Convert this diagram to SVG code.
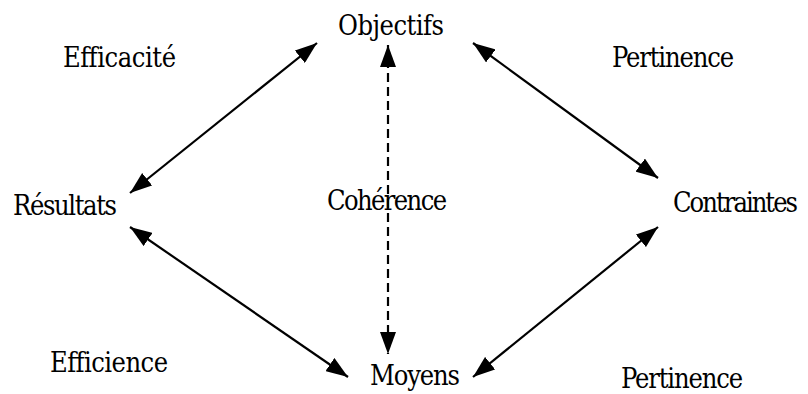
<svg xmlns="http://www.w3.org/2000/svg" width="808" height="394" viewBox="0 0 808 394">
<style>
text{font-family:"DejaVu Serif Condensed","DejaVu Serif",serif;font-stretch:condensed;font-size:27px;fill:#000}
.c{stroke:#000;stroke-width:2.2;fill:none}
.d{stroke-dasharray:9 5}
</style>
<defs>
<marker id="ah" viewBox="0 0 22 16" refX="22" refY="8" markerWidth="22" markerHeight="16" markerUnits="userSpaceOnUse" orient="auto-start-reverse">
<path d="M0,0 L22,8 L0,16 Z" fill="#000"/>
</marker>
</defs>
<rect width="808" height="394" fill="#fff"/>
<g id="connectors">
<line class="c" x1="130" y1="193" x2="317" y2="43" marker-start="url(#ah)" marker-end="url(#ah)"/>
<line class="c" x1="473" y1="43" x2="658" y2="178" marker-start="url(#ah)" marker-end="url(#ah)"/>
<line class="c" x1="130" y1="227" x2="348" y2="377" marker-start="url(#ah)" marker-end="url(#ah)"/>
<line class="c" x1="658" y1="227" x2="473" y2="377" marker-start="url(#ah)" marker-end="url(#ah)"/>
<line class="c d" x1="388" y1="45" x2="388" y2="354" marker-start="url(#ah)" marker-end="url(#ah)"/>
</g>
<g id="objectifs"><text x="338" y="35" textLength="106">Objectifs</text></g>
<g id="resultats"><text x="13" y="215" textLength="104">Résultats</text></g>
<g id="contraintes"><text x="673" y="212" textLength="125">Contraintes</text></g>
<g id="moyens"><text x="370" y="385" textLength="90">Moyens</text></g>
<g id="efficacite"><text x="63" y="67" textLength="113">Efficacité</text></g>
<g id="pertinence1"><text x="612" y="67" textLength="122">Pertinence</text></g>
<g id="coherence"><text x="327" y="210" textLength="120">Cohérence</text></g>
<g id="efficience"><text x="50" y="372" textLength="118">Efficience</text></g>
<g id="pertinence2"><text x="621" y="388" textLength="122">Pertinence</text></g>
</svg>
